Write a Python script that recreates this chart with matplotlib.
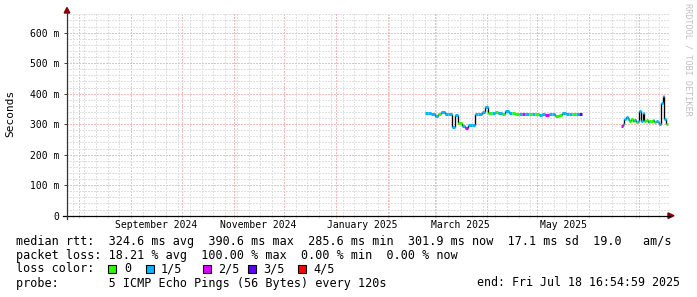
import matplotlib
matplotlib.use("Agg")
import matplotlib.pyplot as plt
import matplotlib.dates as mdates
import matplotlib.transforms as mtransforms
from matplotlib.lines import Line2D
from matplotlib.patches import Rectangle, Polygon
import datetime as dt

W, H = 697, 297
MONO = "DejaVu Sans Mono"

# ---------------- data ----------------
time_start = dt.datetime(2024, 7, 24, 16, 54, 59)
time_end = dt.datetime(2025, 7, 18, 16, 54, 59)
y_max_ms = 663.6
y_ticks_ms = [0, 100, 200, 300, 400, 500, 600]
y_tick_labels = ["0", "100 m", "200 m", "300 m", "400 m", "500 m", "600 m"]

month_labels = ["September 2024", "November 2024", "January 2025", "March 2025", "May 2025"]
month_label_months = [(2024, 9), (2024, 11), (2025, 1), (2025, 3), (2025, 5)]

# segment 1: Feb 23 2025 .. May 27 2025, every 2 days
seg1_start = dt.datetime(2025, 2, 23)
seg1_step_days = 2
seg1_rtt_ms = [336, 338, 334, 328, 332, 340, 333, 335, 290, 331,
               303, 295, 289, 297, 296, 333, 335, 340, 356, 336,
               338, 340, 337, 335, 344, 336, 338, 333, 335, 333,
               335, 332, 334, 333, 331, 333, 329, 332, 333, 327,
               329, 338, 332, 334, 333, 332, 334]
seg1_loss = [1, 1, 1, 1, 0, 1, 1, 1, 1, 1,
             0, 1, 2, 1, 1, 1, 1, 1, 1, 0,
             1, 0, 1, 0, 1, 1, 0, 0, 1, 2,
             1, 0, 1, 0, 1, 1, 2, 1, 1, 0,
             0, 1, 1, 1, 0, 1, 3]

# segment 2: Jun 20 2025 .. Jul 17 2025, every day
seg2_start = dt.datetime(2025, 6, 20)
seg2_step_days = 1
seg2_rtt_ms = [295, 302, 318, 325, 318, 312, 316, 309, 313, 308,
               311, 344, 312, 338, 310, 314, 308, 312, 309, 313,
               307, 311, 306, 300, 370, 391, 318, 302]
seg2_loss = [2, 1, 1, 1, 1, 0, 0, 0, 1, 0,
             1, 1, 1, 1, 0, 0, 1, 0, 0, 1,
             0, 1, 1, 1, 1, 1, 1, 0]

loss_colors = ["#26ff00", "#00b8ff", "#dd00ff", "#5e00ff", "#ff0000"]
loss_labels = ["0", "1/5", "2/5", "3/5", "4/5"]

legend_line1 = "median rtt:  324.6 ms avg  390.6 ms max  285.6 ms min  301.9 ms now  17.1 ms sd  19.0   am/s"
legend_line2 = "packet loss: 18.21 % avg  100.00 % max  0.00 % min  0.00 % now"
legend_line3 = "loss color:"
legend_line4 = "probe:       5 ICMP Echo Pings (56 Bytes) every 120s"
legend_end = "end: Fri Jul 18 16:54:59 2025"
y_label = "Seconds"
watermark = "RRDTOOL / TOBI OETIKER"

# ---------------- layout helpers ----------------
def fx(x):
    return x / W

def fy(y):
    return 1 - y / H

GRID = "#e0e0e0"
MGRID = "#f6bcbc"
ARROW = "#8b0000"

fig = plt.figure(figsize=(W / 100, H / 100), dpi=100, facecolor="white")
L, R, T, B = 67, 669, 13.3, 215.7
ax = fig.add_axes([fx(L), fy(B), (R - L) / W, (B - T) / H])
ax.set_facecolor("white")

x0 = mdates.date2num(time_start)
x1 = mdates.date2num(time_end)
ax.set_xlim(x0, x1)
ax.set_ylim(0, y_max_ms)

# grids
ax.xaxis.set_major_locator(mdates.MonthLocator())
ax.xaxis.set_minor_locator(mdates.WeekdayLocator(byweekday=mdates.SU))
ax.set_yticks(y_ticks_ms)
ax.set_yticklabels(y_tick_labels, family=MONO, fontsize=7)
ax.set_yticks(list(range(0, 661, 20)), minor=True)
ax.set_xticklabels([])
ax.grid(which="minor", color=GRID, linestyle=(0, (1.39, 1.39)), linewidth=0.72,
        antialiased=False, zorder=0)
ax.grid(which="major", color=MGRID, linestyle=(0, (1.39, 1.39)), linewidth=0.72,
        antialiased=False, zorder=0.5)
ax.set_axisbelow(True)
ax.tick_params(axis="y", which="major", length=2.5, width=0.72, color="#444444", pad=2.8)
ax.tick_params(axis="y", which="minor", length=0)
ax.tick_params(axis="x", which="major", length=1.5, width=0.72, color=MGRID)
ax.tick_params(axis="x", which="minor", length=1.5, width=0.72, color=GRID)
for s in ax.spines.values():
    s.set_visible(False)

# month labels centred on the month
blend = mtransforms.blended_transform_factory(ax.transData, fig.transFigure)
for lab, (yy, mm) in zip(month_labels, month_label_months):
    a = dt.datetime(yy, mm, 1)
    b = dt.datetime(yy + (mm // 12), mm % 12 + 1, 1)
    xm = (mdates.date2num(a) + mdates.date2num(b)) / 2
    ax.text(xm, fy(224.5), lab, transform=blend, ha="center", va="center",
            family=MONO, fontsize=7, color="black")

# data
def draw_segment(start, step, vals, loss):
    n = len(vals)
    xs = [mdates.date2num(start + dt.timedelta(days=step * i)) for i in range(n + 1)]
    for i in range(n - 1):
        ax.vlines(xs[i + 1], vals[i], vals[i + 1], color="black", linewidth=0.95, zorder=3)
    for i in range(n):
        ax.hlines(vals[i], xs[i], xs[i + 1], color=loss_colors[loss[i]], linewidth=2.2,
                  zorder=4, capstyle="butt")

draw_segment(seg1_start, seg1_step_days, seg1_rtt_ms, seg1_loss)
draw_segment(seg2_start, seg2_step_days, seg2_rtt_ms, seg2_loss)

# axis lines with arrows
fig.add_artist(Line2D([fx(63), fx(670)], [fy(B), fy(B)], color="black", lw=0.9, transform=fig.transFigure))
fig.add_artist(Line2D([fx(L), fx(L)], [fy(219), fy(12)], color="#333333", lw=0.9, transform=fig.transFigure))
fig.add_artist(Polygon([[fx(668), fy(B - 2.8)], [fx(674), fy(B)], [fx(668), fy(B + 2.8)]],
                       closed=True, color=ARROW, transform=fig.transFigure))
fig.add_artist(Polygon([[fx(L - 2.8), fy(13)], [fx(L), fy(7.5)], [fx(L + 2.8), fy(13)]],
                       closed=True, color=ARROW, transform=fig.transFigure))

# y label and watermark
fig.text(fx(10.5), fy(113.5), y_label, rotation=90, ha="center", va="center",
         family=MONO, fontsize=8, color="black")
fig.text(fx(688), fy(59), watermark, rotation=270, ha="center", va="center",
         family=MONO, fontsize=6.1, color="#c0c0c0")

# legend text
fs = 8.45
fig.text(fx(16), fy(241), legend_line1, ha="left", va="center", family=MONO, fontsize=fs)
fig.text(fx(16), fy(255), legend_line2, ha="left", va="center", family=MONO, fontsize=fs)
fig.text(fx(16), fy(268.5), legend_line3, ha="left", va="center", family=MONO, fontsize=fs)
fig.text(fx(16), fy(283), legend_line4, ha="left", va="center", family=MONO, fontsize=fs)
fig.text(fx(477), fy(283), legend_end, ha="left", va="center", family=MONO, fontsize=8.4)

box_x = [108, 146, 203, 248, 298]
txt_x = [124, 161, 218, 263, 313]
for c, lab, bx, tx in zip(loss_colors, loss_labels, box_x, txt_x):
    fig.add_artist(Rectangle((fx(bx), fy(272.5)), 8 / W, 8 / H, facecolor=c,
                             edgecolor="black", linewidth=0.8, transform=fig.transFigure))
    fig.text(fx(tx), fy(268.5), lab, ha="left", va="center", family=MONO, fontsize=fs)

fig.savefig("out.png", dpi=100, facecolor="white")
